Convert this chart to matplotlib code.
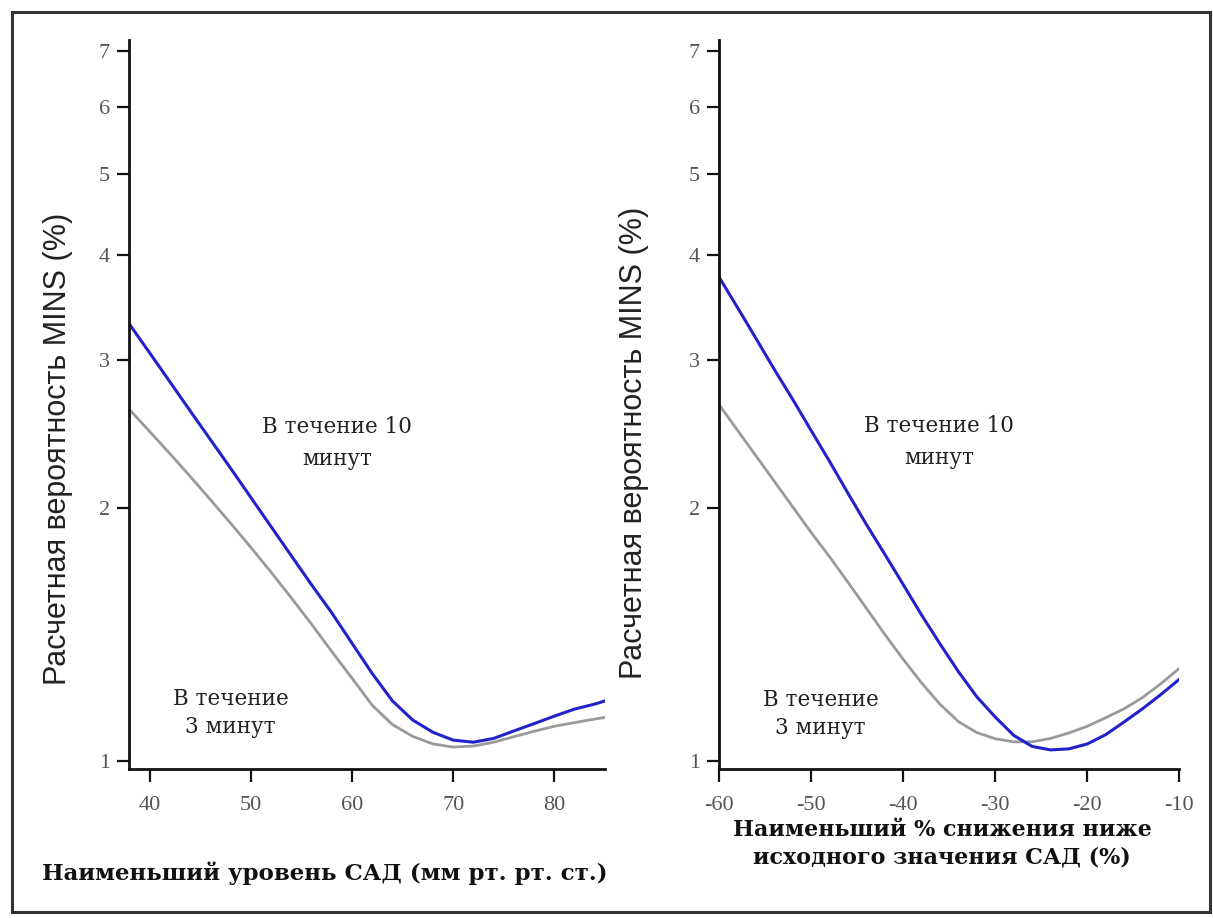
import numpy as np
import matplotlib.pyplot as plt
from matplotlib.patches import Rectangle
from matplotlib.ticker import FixedLocator, NullLocator

# левая панель: наименьший уровень САД (мм рт. ст.)
sad_x = [38, 40, 44, 48, 52, 56, 58, 60, 62, 64, 66, 68, 70, 72, 74, 76, 78, 80, 82, 84, 85]
sad_10min = [3.31, 3.06, 2.61, 2.23, 1.90, 1.62, 1.50, 1.38, 1.27, 1.178, 1.118, 1.081, 1.058,
             1.052, 1.063, 1.085, 1.107, 1.130, 1.152, 1.168, 1.178]
sad_x_gray = [38, 40, 42, 44, 46, 48, 50, 52, 54, 56, 58, 60, 62, 64, 66, 68, 70, 72, 74, 76,
              78, 80, 82, 84, 85]
sad_3min = [2.619, 2.466, 2.321, 2.181, 2.046, 1.918, 1.795, 1.677, 1.563, 1.454, 1.349, 1.254,
            1.164, 1.104, 1.069, 1.047, 1.038, 1.041, 1.052, 1.068, 1.084, 1.099, 1.110, 1.121,
            1.126]

# правая панель: наименьший % снижения САД
pct_x = [-60, -58, -56, -54, -52, -50, -48, -46, -44, -42, -40, -38, -36, -34, -32, -30,
         -28, -26, -24, -22, -20, -18, -16, -14, -12, -10]
pct_10min = [3.76, 3.46, 3.18, 2.92, 2.69, 2.47, 2.27, 2.08, 1.91, 1.76, 1.62, 1.49, 1.377,
             1.276, 1.191, 1.127, 1.072, 1.040, 1.030, 1.033, 1.047, 1.074, 1.112, 1.153,
             1.199, 1.250]
pct_3min = [2.651, 2.472, 2.305, 2.149, 2.004, 1.868, 1.748, 1.630, 1.518, 1.413, 1.320, 1.237,
            1.167, 1.113, 1.080, 1.062, 1.053, 1.053, 1.063, 1.079, 1.099, 1.125, 1.153, 1.189,
            1.235, 1.288]

y_ticks = [1, 2, 3, 4, 5, 6, 7]
left_xticks = [40, 50, 60, 70, 80]
right_xticks = [-60, -50, -40, -30, -20, -10]

ylabel = 'Расчетная вероятность MINS (%)'
xlabel_left = 'Наименьший уровень САД (мм рт. рт. ст.)'
xlabel_right = 'Наименьший % снижения ниже\nисходного значения САД (%)'
lbl10 = 'В течение 10\nминут'
lbl3 = 'В течение\n3 минут'

BLUE = '#2222cc'
GRAY = '#9a9a9a'

fig = plt.figure(figsize=(12.13, 9.18), dpi=100)

W, H = 1213, 918
def axbox(x0, x1, y0, y1):
    return [x0 / W, 1 - y1 / H, (x1 - x0) / W, (y1 - y0) / H]

ax1 = fig.add_axes(axbox(129.3, 605, 40, 769.3))
ax2 = fig.add_axes(axbox(719.3, 1179.3, 40, 769.3))

ax1.plot(sad_x_gray, sad_3min, color=GRAY, lw=2.0)
ax1.plot(sad_x, sad_10min, color=BLUE, lw=2.2)
ax2.plot(pct_x, pct_3min, color=GRAY, lw=2.0)
ax2.plot(pct_x, pct_10min, color=BLUE, lw=2.2)

ax1.set_xlim(38, 85)
ax2.set_xlim(-60, -10)

for ax, xt in ((ax1, left_xticks), (ax2, right_xticks)):
    ax.set_yscale('log')
    ax.set_ylim(0.9767, 7.21)
    ax.yaxis.set_major_locator(FixedLocator(y_ticks))
    ax.yaxis.set_minor_locator(NullLocator())
    ax.set_yticklabels([str(v) for v in y_ticks])
    ax.set_xticks(xt)
    ax.set_xticklabels([str(v) for v in xt])
    for s in ('top', 'right'):
        ax.spines[s].set_visible(False)
    for s in ('left', 'bottom'):
        ax.spines[s].set_linewidth(2.0)
        ax.spines[s].set_color('#111111')
    ax.tick_params(direction='out', length=9, width=1.6, color='#111111',
                   labelcolor='#555555', labelsize=16)
    ax.tick_params(axis='x', pad=10)
    ax.tick_params(axis='y', pad=5)
    for t in ax.get_xticklabels() + ax.get_yticklabels():
        t.set_family('Liberation Serif')
    ax.set_ylabel(ylabel, family='Liberation Sans', fontsize=22, color='#222222')

ax1.yaxis.set_label_coords(-0.118, 0.439)
ax2.yaxis.set_label_coords(-0.153, 0.448)

# подписи кривых
txt = dict(family='DejaVu Serif', fontsize=15.5, color='#222222', ha='center', va='center')
ax1.text(58.5, 2.39, lbl10, linespacing=1.6, **txt)
ax1.text(48.0, 1.14, lbl3, linespacing=1.35, **txt)
ax2.text(-36.1, 2.395, lbl10, linespacing=1.6, **txt)
ax2.text(-49.0, 1.137, lbl3, linespacing=1.35, **txt)

fig.text(325 / W, 1 - 873 / H, xlabel_left, family='DejaVu Serif', weight='bold',
         fontsize=16.5, ha='center', va='center', color='#111111')
fig.text(942 / W, 1 - 844 / H, xlabel_right, family='DejaVu Serif', weight='bold',
         fontsize=16, ha='center', va='center', color='#111111', linespacing=1.3)

# рамка вокруг рисунка
fig.patches.append(Rectangle((11.5 / W, 1 - 912 / H), (1210 - 11.5) / W, (912 - 11.5) / H,
                             transform=fig.transFigure, fill=False,
                             edgecolor='#333333', lw=2.2))

fig.savefig('out.png', dpi=100)
